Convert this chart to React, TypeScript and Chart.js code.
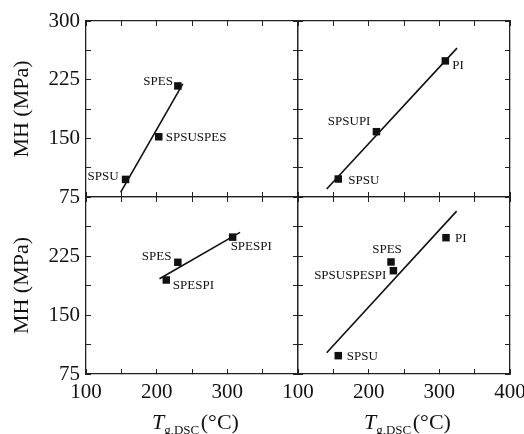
import React, { useEffect, useRef } from 'react';
import { Chart, registerables } from 'chart.js';
Chart.register(...registerables);

// ---- data ----
const xMajor = [100, 200, 300, 400];
const yMajor = [75, 150, 225, 300];
const xTitleMain = 'T';
const xTitleSub = 'g,DSC';
const xTitleUnit = ' (°C)';
const yTitle = 'MH (MPa)';

const tlNames = ['SPSU', 'SPSUSPES', 'SPES'];
const tlX = [156, 203, 230];
const tlY = [97.5, 152, 217];
const tlFitX = [149, 237];
const tlFitY = [81, 219.5];

const trNames = ['SPSU', 'SPSUPI', 'PI'];
const trX = [157, 211, 308.5];
const trY = [98, 158.5, 249];
const trFitX = [140.6, 325];
const trFitY = [85.2, 265.3];

const blNames = ['SPES', 'SPESPI', 'SPESPI'];
const blX = [230, 213.6, 307.5];
const blY = [217, 194.5, 249];
const blFitX = [204, 318];
const blFitY = [196, 255];

const brNames = ['SPSU', 'SPES', 'SPSUSPESPI', 'PI'];
const brX = [157, 231.6, 235, 309.4];
const brY = [98.3, 217.4, 206.3, 248.3];
const brFitX = [140.6, 324.5];
const brFitY = [102, 282];

// ---- styling / layout ----
const FONT = 'Liberation Serif';
const INK = '#111';
const W = 524;
const H = 434;

type LabelPos = [number, number, CanvasTextAlign];

type PanelCfg = {
  names: string[];
  xs: number[];
  ys: number[];
  fitX: number[];
  fitY: number[];
  labelPos: LabelPos[];
  box: { left: number; right: number; top: number; bottom: number };
  xLabels: number[];
  yLabels: number[];
  showYTitle: boolean;
  showXTitle: boolean;
};

const panels: PanelCfg[] = [
  {
    names: tlNames, xs: tlX, ys: tlY, fitX: tlFitX, fitY: tlFitY,
    labelPos: [[-7, -3, 'right'], [7, 1, 'left'], [-5, -4, 'right']],
    box: { left: 86, right: W - 298, top: 21, bottom: H - 197 },
    xLabels: [], yLabels: [75, 150, 225, 300], showYTitle: true, showXTitle: false,
  },
  {
    names: trNames, xs: trX, ys: trY, fitX: trFitX, fitY: trFitY,
    labelPos: [[10, 2, 'left'], [-6, -10, 'right'], [7, 5, 'left']],
    box: { left: 298, right: W - 510, top: 21, bottom: H - 197 },
    xLabels: [], yLabels: [], showYTitle: false, showXTitle: false,
  },
  {
    names: blNames, xs: blX, ys: blY, fitX: blFitX, fitY: blFitY,
    labelPos: [[-6.5, -6, 'right'], [6.5, 6, 'left'], [-2, 9.5, 'left']],
    box: { left: 86, right: W - 298, top: 197, bottom: H - 374 },
    xLabels: [100, 200, 300], yLabels: [75, 150, 225], showYTitle: true, showXTitle: true,
  },
  {
    names: brNames, xs: brX, ys: brY, fitX: brFitX, fitY: brFitY,
    labelPos: [[8.5, 0.5, 'left'], [-4, -12, 'center'], [-7, 5, 'right'], [9, 1, 'left']],
    box: { left: 298, right: W - 510, top: 197, bottom: H - 374 },
    xLabels: [100, 200, 300, 400], yLabels: [], showYTitle: false, showXTitle: true,
  },
];

const gridOpts = {
  drawOnChartArea: false,
  drawTicks: true,
  tickLength: -5,
  color: '#222',
  lineWidth: 1,
};
const borderOpts = { display: true, color: '#222', width: 1.3 };

function Panel({ cfg }: { cfg: PanelCfg }) {
  const ref = useRef<HTMLCanvasElement | null>(null);
  useEffect(() => {
    if (!ref.current) return;
    const { box } = cfg;
    const labelPlugin = {
      id: 'pointLabels',
      afterDatasetsDraw(chart: any) {
        const ctx = chart.ctx;
        const meta = chart.getDatasetMeta(0);
        ctx.save();
        ctx.font = `13px "${FONT}"`;
        ctx.fillStyle = INK;
        ctx.textBaseline = 'middle';
        meta.data.forEach((pt: any, i: number) => {
          const [dx, dy, align] = cfg.labelPos[i];
          ctx.textAlign = align;
          ctx.fillText(cfg.names[i], pt.x + dx, pt.y + dy);
        });
        ctx.restore();
      },
    };
    const xTitlePlugin = {
      id: 'xTitle',
      afterDraw(chart: any) {
        if (!cfg.showXTitle) return;
        const ctx = chart.ctx;
        const ca = chart.chartArea;
        const cx = (ca.left + ca.right) / 2;
        let x = cx - 40;
        const base = ca.bottom + 55;
        ctx.save();
        ctx.fillStyle = INK;
        ctx.textAlign = 'left';
        ctx.textBaseline = 'alphabetic';
        ctx.font = `italic 22px "${FONT}"`;
        ctx.fillText(xTitleMain, x, base);
        x += ctx.measureText(xTitleMain).width;
        ctx.font = `13px "${FONT}"`;
        ctx.fillText(xTitleSub, x, base + 5);
        x += ctx.measureText(xTitleSub).width;
        ctx.font = `22px "${FONT}"`;
        ctx.fillText(xTitleUnit, x - 4, base);
        ctx.restore();
      },
    };
    const tickFont = { family: FONT, size: 21 };
    const chart = new Chart(ref.current, {
      type: 'scatter',
      data: {
        datasets: [
          {
            data: cfg.xs.map((x, i) => ({ x, y: cfg.ys[i] })),
            pointStyle: 'rect',
            pointRadius: 5.3,
            backgroundColor: INK,
            borderWidth: 0,
            showLine: false,
          },
          {
            data: cfg.fitX.map((x, i) => ({ x, y: cfg.fitY[i] })),
            showLine: true,
            pointRadius: 0,
            borderColor: INK,
            borderWidth: 1.6,
            fill: false,
          },
        ],
      },
      options: {
        responsive: false,
        animation: false,
        events: [],
        layout: { padding: 0, autoPadding: false },
        plugins: { legend: { display: false }, tooltip: { enabled: false }, title: { display: false } },
        scales: {
          x: {
            type: 'linear', position: 'bottom', min: 100, max: 400,
            ticks: {
              stepSize: 50, autoSkip: false, maxRotation: 0, padding: 11,
              font: tickFont, color: INK,
              callback: (v: any) => (cfg.xLabels.includes(Number(v)) ? String(v) : ''),
            },
            grid: gridOpts, border: borderOpts,
            afterFit: (s: any) => { s.height = box.bottom; s.paddingLeft = 0; s.paddingRight = 0; },
          },
          x2: {
            type: 'linear', position: 'top', min: 100, max: 400,
            ticks: { stepSize: 50, autoSkip: false, display: false },
            grid: gridOpts, border: borderOpts,
            afterFit: (s: any) => { s.height = box.top; s.paddingLeft = 0; s.paddingRight = 0; },
          },
          y: {
            type: 'linear', position: 'left', min: 75, max: 300,
            ticks: {
              stepSize: 37.5, autoSkip: false, padding: 11,
              font: tickFont, color: INK,
              callback: (v: any) => (cfg.yLabels.includes(Number(v)) ? String(v) : ''),
            },
            title: {
              display: cfg.showYTitle, text: yTitle, color: INK,
              font: { family: FONT, size: 22 }, padding: { top: 9, bottom: 0 },
            },
            grid: gridOpts, border: borderOpts,
            afterFit: (s: any) => { s.width = box.left; s.paddingTop = 0; s.paddingBottom = 0; },
          },
          y2: {
            type: 'linear', position: 'right', min: 75, max: 300,
            ticks: { stepSize: 37.5, autoSkip: false, display: false },
            grid: gridOpts, border: borderOpts,
            afterFit: (s: any) => { s.width = box.right; s.paddingTop = 0; s.paddingBottom = 0; },
          },
        },
      } as any,
      plugins: [labelPlugin, xTitlePlugin],
    });
    return () => chart.destroy();
  }, [cfg]);
  return (
    <canvas
      ref={ref}
      width={W}
      height={H}
      style={{ position: 'absolute', left: 0, top: 0, width: W, height: H }}
    />
  );
}

export default function App() {
  return (
    <div style={{ position: 'fixed', left: 0, top: 0, width: W, height: H, background: '#fff', overflow: 'hidden' }}>
      {panels.map((p, i) => (
        <Panel key={i} cfg={p} />
      ))}
    </div>
  );
}
